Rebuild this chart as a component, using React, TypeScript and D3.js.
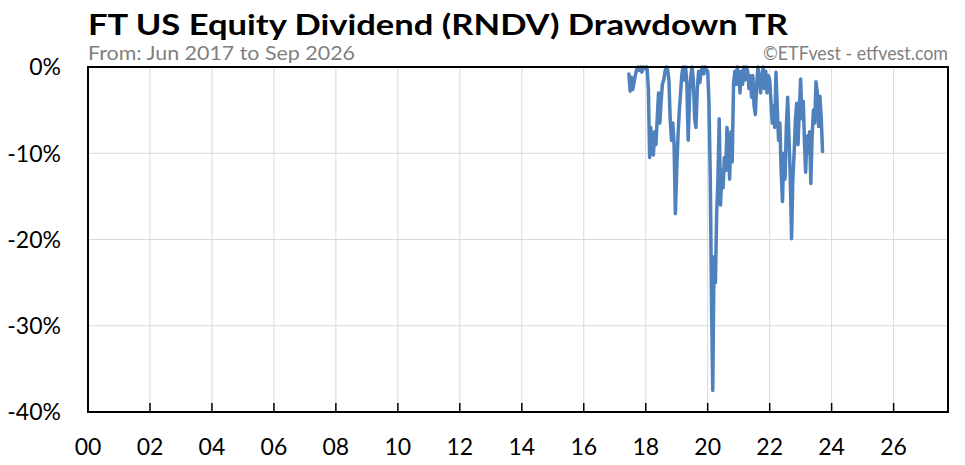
import * as d3 from "d3";

const title = "FT US Equity Dividend (RNDV) Drawdown TR";
const subtitle = "From: Jun 2017 to Sep 2026";
const credit = "©ETFvest - etfvest.com";

const yTicks = [0, -10, -20, -30, -40];
const xTickYears = [2000, 2002, 2004, 2006, 2008, 2010, 2012, 2014, 2016, 2018, 2020, 2022, 2024, 2026];

// drawdown in %, sampled on the 1st and 16th of each month
const drawdown2017 = [-0.8, -2.8, -1.2, -2.6, -1.8, -0.9, -0.3, 0, -0.4, 0, -0.6, 0, -0.2]; // from Jun 16
const drawdown2018 = [0, 0, -2.5, -10.5, -7, -9.8, -10.2, -7.5, -9, -6, -3, -6.5, -4, -2, -1.5, -0.5, 0, -0.3, -1.5, -6, -8.5, -6.5, -9, -17];
const drawdown2019 = [-12, -8, -5, -3, -1, 0, -1.5, 0, -2, -8.5, -3.5, -1, 0, -1.5, -6, -7, -2.5, -0.5, -1.8, -0.5, 0, -0.8, 0, -0.3];
const drawdown2020 = [-0.5, -4, -13, -28, -37.5, -22, -25, -17, -13, -6, -16, -12, -14, -10.5, -12, -7, -10, -13, -7.5, -11, -2, -0.5, -2, 0];
const drawdown2021 = [-1, -3, -0.5, -2, 0, -1.5, 0, -0.5, -2.5, -1, -3.5, -1, -4.5, -5.5, -2, 0, -1.5, -3, -1, 0, -2.5, -0.5, -3, -1];
const drawdown2022 = [-1.5, -4, -6.5, -4.5, -7, -0.6, -5, -8.5, -6.5, -12, -15.6, -10, -13, -7, -3.5, -8, -13, -19.9, -13, -10, -6, -4.2, -9, -5];
const drawdown2023 = [-1.4, -6, -4, -9, -12.2, -8, -10, -7.5, -13.5, -8, -5, -6.5, -1.7, -3, -6.9, -3.4, -6, -9.8];

const yearlySeries: [number, number, number[]][] = [
  [2017, 11, drawdown2017],
  [2018, 0, drawdown2018],
  [2019, 0, drawdown2019],
  [2020, 0, drawdown2020],
  [2021, 0, drawdown2021],
  [2022, 0, drawdown2022],
  [2023, 0, drawdown2023],
];

type Point = { date: Date; value: number };

const points: Point[] = yearlySeries.flatMap(([year, firstSlot, values]) =>
  values.map((value, i) => {
    const slot = firstSlot + i;
    return { date: new Date(year, Math.floor(slot / 2), slot % 2 ? 16 : 1), value };
  })
);

const width = 965;
const height = 465;
const left = 88;
const right = 948;
const top = 67;
const bottom = 412;
const font = "Lato, 'Noto Sans', sans-serif";

const App = () => {
  const x = d3
    .scaleTime()
    .domain([new Date(2000, 0, 1), new Date(2027, 9, 4)])
    .range([left, right]);
  const y = d3.scaleLinear().domain([-40, 0]).range([bottom, top]);

  const line = d3
    .line<Point>()
    .x((d) => x(d.date))
    .y((d) => y(d.value));

  const yearFmt = d3.timeFormat("%y");

  return (
    <svg
      width={width}
      height={height}
      viewBox={`0 0 ${width} ${height}`}
      style={{ position: "absolute", left: 0, top: 0, background: "#fff" }}
      fontFamily={font}
    >
      <rect width={width} height={height} fill="#fff" />
      <text x={left} y={35} fontSize={29} fontWeight="bold" textLength={700} lengthAdjust="spacingAndGlyphs">
        {title}
      </text>
      <text x={left} y={60} fontSize={19} fill="#7f7f7f" textLength={267} lengthAdjust="spacingAndGlyphs">
        {subtitle}
      </text>
      <text x={right} y={60} fontSize={19} fill="#7f7f7f" textAnchor="end" textLength={185} lengthAdjust="spacingAndGlyphs">
        {credit}
      </text>

      <g stroke="#d9d9d9" strokeWidth={1}>
        {xTickYears.slice(1).map((yr) => (
          <line key={yr} x1={x(new Date(yr, 0, 1))} x2={x(new Date(yr, 0, 1))} y1={top} y2={bottom} />
        ))}
        {yTicks.slice(1, -1).map((t) => (
          <line key={t} x1={left} x2={right} y1={y(t)} y2={y(t)} />
        ))}
      </g>

      <path d={line(points) ?? ""} fill="none" stroke="#4f81bd" strokeWidth={3.5} strokeLinejoin="round" strokeLinecap="round" />

      <rect x={left} y={top} width={right - left} height={bottom - top} fill="none" stroke="#000" strokeWidth={2} />
      <g stroke="#000" strokeWidth={1.5}>
        {xTickYears.slice(1).map((yr) => (
          <line key={yr} x1={x(new Date(yr, 0, 1))} x2={x(new Date(yr, 0, 1))} y1={bottom} y2={bottom - 9} />
        ))}
      </g>

      <g fontSize={23} textAnchor="end">
        {yTicks.map((t) => (
          <text key={t} x={61} y={y(t)} dy="0.36em">
            {`${t}%`}
          </text>
        ))}
      </g>
      <g fontSize={23} textAnchor="middle">
        {xTickYears.map((yr) => (
          <text key={yr} x={x(new Date(yr, 0, 1))} y={455}>
            {yearFmt(new Date(yr, 0, 1))}
          </text>
        ))}
      </g>
    </svg>
  );
};

export default App;
